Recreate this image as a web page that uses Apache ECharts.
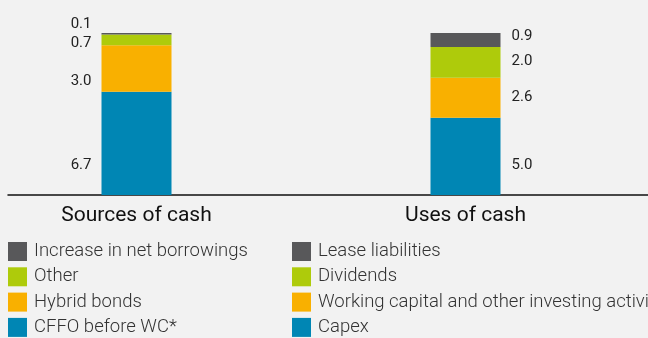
<!DOCTYPE html>
<html><head><meta charset="utf-8">
<script src="https://cdn.jsdelivr.net/npm/echarts@6/dist/echarts.min.js"></script>
<style>html,body{margin:0;padding:0;background:#f2f2f2;}#c{width:648px;height:338px;}</style>
</head><body><div id="c"></div>
<script>
const categories = ['Sources of cash', 'Uses of cash'];
const sourceNames = ['CFFO before WC*', 'Hybrid bonds', 'Other', 'Increase in net borrowings'];
const sourceValues = [6.7, 3.0, 0.7, 0.1];
const useNames = ['Capex', 'Working capital and other investing activities', 'Dividends', 'Lease liabilities'];
const useValues = [5.0, 2.6, 2.0, 0.9];

const colors = ['#0086b4', '#f9b000', '#aecb0b', '#58585a'];
const srcLabelDy = [22, 12.5, 3, -10];
const useLabelDy = [8.5, -1, -1.5, -4];
const FONT = 'Roboto';

const series = [];
sourceNames.forEach((n, i) => {
  series.push({
    name: n, type: 'bar', stack: 'all', barWidth: 70,
    xAxisIndex: 0, yAxisIndex: 0,
    itemStyle: { color: colors[i] },
    label: { show: true, position: 'left', distance: 10, offset: [0, srcLabelDy[i]],
      formatter: p => p.value.toFixed(1), color: '#222', fontSize: 15, fontFamily: FONT },
    data: [sourceValues[i], '-']
  });
});
useNames.forEach((n, i) => {
  series.push({
    name: n, type: 'bar', stack: 'all', barWidth: 70,
    xAxisIndex: 0, yAxisIndex: 0,
    itemStyle: { color: colors[i] },
    label: { show: true, position: 'right', distance: 11, offset: [0, useLabelDy[i]],
      formatter: p => p.value.toFixed(1), color: '#222', fontSize: 15, fontFamily: FONT },
    data: ['-', useValues[i]]
  });
});

const legendCommon = {
  orient: 'vertical', top: 242, itemWidth: 19, itemHeight: 19, itemGap: 6.3,
  icon: 'rect', padding: 0,
  textStyle: { fontSize: 18.5, fontWeight: 300, color: '#333', fontFamily: FONT, padding: [0, 0, 0, 2] }
};

const chart = echarts.init(document.getElementById('c'), null, { renderer: 'canvas' });
chart.setOption({
  backgroundColor: '#f2f2f2',
  animation: false,
  textStyle: { fontFamily: FONT },
  grid: [
    { left: -28, right: 18, top: 33, bottom: 143, outerBoundsMode: 'none' },
    { left: 8, right: 0, top: 33, bottom: 143, outerBoundsMode: 'none' }
  ],
  xAxis: [
    { type: 'category', gridIndex: 0, data: categories,
      axisLine: { show: false }, axisTick: { show: false },
      axisLabel: { fontSize: 21, color: '#111', margin: 10, fontFamily: FONT } },
    { type: 'category', gridIndex: 1, data: [''],
      axisLine: { show: true, lineStyle: { color: '#111', width: 1.5 } },
      axisTick: { show: false }, axisLabel: { show: false } }
  ],
  yAxis: [
    { type: 'value', gridIndex: 0, min: 0, max: 10.5, show: false },
    { type: 'value', gridIndex: 1, min: 0, max: 1, show: false }
  ],
  legend: [
    Object.assign({}, legendCommon, { left: 8, data: sourceNames.slice().reverse() }),
    Object.assign({}, legendCommon, { left: 292, data: useNames.slice().reverse() })
  ],
  series: series
});
</script></body></html>
